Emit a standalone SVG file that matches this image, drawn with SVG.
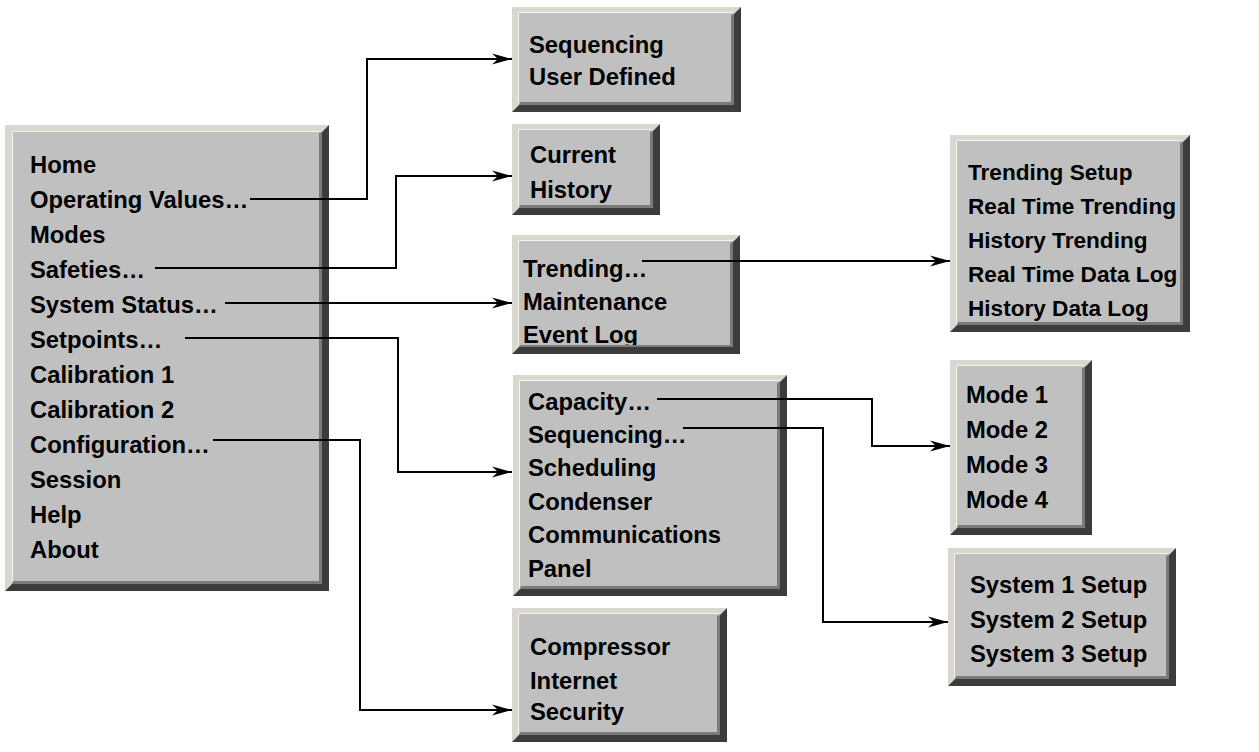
<svg xmlns="http://www.w3.org/2000/svg" width="1259" height="752" viewBox="0 0 1259 752">
<style>
.lt{fill:#d9d7cf}
.hl{fill:none;stroke:#f4f3ee;stroke-width:1}
.dk{fill:#3c3c3c}
.dk2{fill:#7a7a7a}
.face{fill:#c0c0c0}
text{font-family:"Liberation Sans",Arial,Helvetica,sans-serif;font-weight:bold;font-size:23.8px;fill:#000}
text.sm{font-size:22.6px}
.conn path{fill:none;stroke:#000;stroke-width:2}
</style>
<defs>
<marker id="arr" markerUnits="userSpaceOnUse" markerWidth="24" markerHeight="14" refX="20" refY="6" orient="auto">
<path d="M0,0.5 L20,6 L0,11.5 L6,6 Z" fill="#000"/>
</marker>
</defs>
<rect width="1259" height="752" fill="#fff"/>

<g id="main">
<rect class="lt" x="5" y="125" width="324" height="466"/>
<rect class="face" x="13" y="131" width="309" height="452"/>
<path class="hl" d="M12.5,582 V131.5 H321"/>
<text x="30" y="173">Home</text>
<text x="30" y="208">Operating Values…</text>
<text x="30" y="243">Modes</text>
<text x="30" y="278">Safeties…</text>
<text x="30" y="313">System Status…</text>
<text x="30" y="348">Setpoints…</text>
<text x="30" y="383">Calibration 1</text>
<text x="30" y="418">Calibration 2</text>
<text x="30" y="453">Configuration…</text>
<text x="30" y="488">Session</text>
<text x="30" y="523">Help</text>
<text x="30" y="558">About</text>
<path class="dk" d="M329,125 V591 H5 L12,584 H322 V132 Z"/>
<path class="dk2" d="M322,132 V584 H12 L13,581 H319 V133 Z"/>
</g>

<g id="box-opvalues">
<rect class="lt" x="512" y="7" width="229" height="105"/>
<rect class="face" x="519" y="13" width="215" height="92"/>
<path class="hl" d="M518.5,104 V12.5 H733"/>
<text x="529" y="53">Sequencing</text>
<text x="529" y="85">User Defined</text>
<path class="dk" d="M741,7 V112 H512 L519,105 H734 V14 Z"/>
<path class="dk2" d="M734,14 V105 H519 L520,102 H731 V15 Z"/>
</g>

<g id="box-safeties">
<rect class="lt" x="512" y="124" width="148" height="91"/>
<rect class="face" x="519" y="130" width="134" height="78"/>
<path class="hl" d="M518.5,207 V129.5 H652"/>
<text x="530" y="163">Current</text>
<text x="530" y="198">History</text>
<path class="dk" d="M660,124 V215 H512 L519,208 H653 V131 Z"/>
<path class="dk2" d="M653,131 V208 H519 L520,205 H650 V132 Z"/>
</g>

<g id="box-status">
<rect class="lt" x="512" y="235" width="228" height="119"/>
<rect class="face" x="519" y="241" width="214" height="106"/>
<path class="hl" d="M518.5,346 V240.5 H732"/>
<text x="523" y="277">Trending…</text>
<text x="523" y="310">Maintenance</text>
<text x="523" y="343">Event Log</text>
<path class="dk" d="M740,235 V354 H512 L519,347 H733 V242 Z"/>
<path class="dk2" d="M733,242 V347 H519 L520,345 H730 V243 Z"/>
</g>

<g id="box-setpoints">
<rect class="lt" x="513" y="375" width="274" height="221"/>
<rect class="face" x="520" y="381" width="260" height="208"/>
<path class="hl" d="M519.5,588 V380.5 H779"/>
<text x="528" y="410">Capacity…</text>
<text x="528" y="443">Sequencing…</text>
<text x="528" y="476">Scheduling</text>
<text x="528" y="510">Condenser</text>
<text x="528" y="543">Communications</text>
<text x="528" y="577">Panel</text>
<path class="dk" d="M787,375 V596 H513 L520,589 H780 V382 Z"/>
<path class="dk2" d="M780,382 V589 H520 L521,586 H777 V383 Z"/>
</g>

<g id="box-config">
<rect class="lt" x="512" y="608" width="215" height="134"/>
<rect class="face" x="519" y="614" width="201" height="121"/>
<path class="hl" d="M518.5,734 V613.5 H719"/>
<text x="530" y="655">Compressor</text>
<text x="530" y="689">Internet</text>
<text x="530" y="720">Security</text>
<path class="dk" d="M727,608 V742 H512 L519,735 H720 V615 Z"/>
<path class="dk2" d="M720,615 V735 H519 L520,732 H717 V616 Z"/>
</g>

<g id="box-trending">
<rect class="lt" x="950" y="135" width="240" height="197"/>
<rect class="face" x="957" y="141" width="226" height="184"/>
<path class="hl" d="M956.5,324 V140.5 H1182"/>
<text class="sm" x="968" y="180">Trending Setup</text>
<text class="sm" x="968" y="214">Real Time Trending</text>
<text class="sm" x="968" y="248">History Trending</text>
<text class="sm" x="968" y="282">Real Time Data Log</text>
<text class="sm" x="968" y="316">History Data Log</text>
<path class="dk" d="M1190,135 V332 H950 L957,325 H1183 V142 Z"/>
<path class="dk2" d="M1183,142 V325 H957 L958,322 H1180 V143 Z"/>
</g>

<g id="box-capacity">
<rect class="lt" x="950" y="360" width="142" height="175"/>
<rect class="face" x="957" y="366" width="128" height="162"/>
<path class="hl" d="M956.5,527 V365.5 H1084"/>
<text x="966" y="403">Mode 1</text>
<text x="966" y="438">Mode 2</text>
<text x="966" y="473">Mode 3</text>
<text x="966" y="508">Mode 4</text>
<path class="dk" d="M1092,360 V535 H950 L957,528 H1085 V367 Z"/>
<path class="dk2" d="M1085,367 V528 H957 L958,525 H1082 V368 Z"/>
</g>

<g id="box-sequencing">
<rect class="lt" x="948" y="548" width="228" height="138"/>
<rect class="face" x="955" y="554" width="214" height="125"/>
<path class="hl" d="M954.5,678 V553.5 H1168"/>
<text x="970" y="593">System 1 Setup</text>
<text x="970" y="628">System 2 Setup</text>
<text x="970" y="662">System 3 Setup</text>
<path class="dk" d="M1176,548 V686 H948 L955,679 H1169 V555 Z"/>
<path class="dk2" d="M1169,555 V679 H955 L956,676 H1166 V556 Z"/>
</g>

<g id="connectors" class="conn">
<path d="M250,199 H367 V59 H512" marker-end="url(#arr)"/>
<path d="M155,268 H396 V176 H512" marker-end="url(#arr)"/>
<path d="M225,303 H512" marker-end="url(#arr)"/>
<path d="M185,338 H398 V472 H512" marker-end="url(#arr)"/>
<path d="M213,440 H360 V710 H512" marker-end="url(#arr)"/>
<path d="M642,261 H950" marker-end="url(#arr)"/>
<path d="M657,399 H872 V446 H950" marker-end="url(#arr)"/>
<path d="M683,428 H823 V622 H948" marker-end="url(#arr)"/>
</g>
</svg>
